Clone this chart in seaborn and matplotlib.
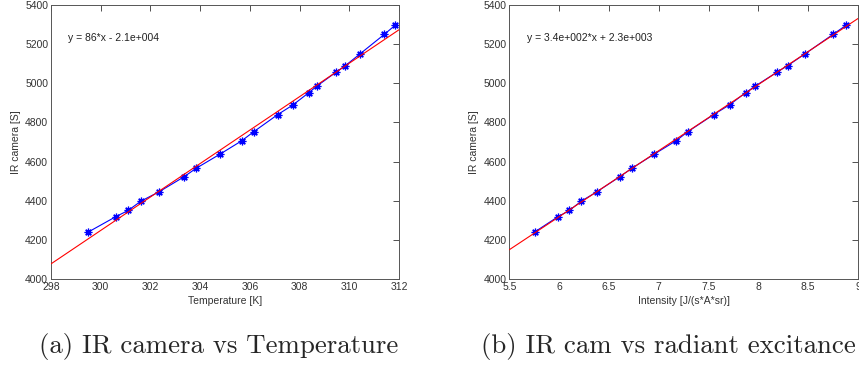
import numpy as np
import pandas as pd
import matplotlib
matplotlib.use("Agg")
import matplotlib.pyplot as plt
from matplotlib.ticker import FuncFormatter, MultipleLocator
import seaborn as sns

# Measured IR camera signal against blackbody temperature and radiant intensity
temperature_K = [299.50, 300.60, 301.10, 301.62, 302.34, 303.35, 303.83, 304.80,
                 305.67, 306.15, 307.12, 307.74, 308.37, 308.69, 309.48, 309.84,
                 310.43, 311.41, 311.84]
intensity = [5.754, 5.988, 6.102, 6.223, 6.377, 6.607, 6.728, 6.955, 7.173,
             7.290, 7.551, 7.711, 7.872, 7.966, 8.190, 8.293, 8.467, 8.749, 8.879]
ir_signal = [4240, 4318, 4350, 4398, 4445, 4522, 4565, 4638, 4706, 4752,
             4840, 4890, 4952, 4985, 5058, 5090, 5150, 5250, 5296]

fit_labels = ["y = 86*x - 2.1e+004", "y = 3.4e+002*x + 2.3e+003"]
x_labels = ["Temperature [K]", "Intensity [J/(s*A*sr)]"]
captions = ["(a) IR camera vs Temperature", "(b) IR cam vs radiant excitance"]
x_limits = [(298, 312), (5.5, 9)]
x_steps = [2, 0.5]

sns.set_style("white")
plt.rcParams["font.family"] = ["Liberation Sans", "DejaVu Sans"]

fig = plt.figure(figsize=(8.59, 3.67), dpi=100)
axes = [fig.add_axes([0.0594, 0.2398, 0.4051, 0.7466]),
        fig.add_axes([0.5929, 0.2398, 0.4060, 0.7466])]

for ax, xs, xl, lim, step, label in zip(axes, [temperature_K, intensity],
                                        x_labels, x_limits, x_steps, fit_labels):
    df = pd.DataFrame({"x": xs, "y": ir_signal})
    slope, intercept = np.polyfit(df["x"], df["y"], 1)
    fit = pd.DataFrame({"x": list(lim)})
    fit["y"] = slope * fit["x"] + intercept

    sns.lineplot(data=df, x="x", y="y", ax=ax, color="#0000ff", lw=0.8,
                 marker=(8, 2, 0), markersize=5.5, markeredgecolor="#0000ff",
                 markeredgewidth=0.9, zorder=2)
    sns.lineplot(data=fit, x="x", y="y", ax=ax, color="#ff0000", lw=0.8, zorder=3)

    ax.set_xlim(*lim)
    ax.set_ylim(4000, 5400)
    ax.xaxis.set_major_locator(MultipleLocator(step))
    ax.yaxis.set_major_locator(MultipleLocator(200))
    ax.xaxis.set_major_formatter(FuncFormatter(lambda v, p: f"{v:g}"))
    ax.tick_params(direction="in", length=4, width=0.6, top=True, right=True,
                   labelsize=7.5, colors="#333333", pad=2)
    for s in ax.spines.values():
        s.set_visible(True)
        s.set_color("#555555")
        s.set_linewidth(0.7)
    ax.set_xlabel(xl, fontsize=7.5, color="#333333", labelpad=3)
    ax.set_ylabel("IR camera [S]", fontsize=7.5, color="#333333", labelpad=3)
    ax.text(0.05, 0.88, label, transform=ax.transAxes, fontsize=7.5,
            color="#222222", va="center")

fig.text(0.0454, 0.038, captions[0], fontsize=19.3, family=["cmr10", "DejaVu Serif"],
         va="baseline", ha="left")
fig.text(0.560, 0.038, captions[1], fontsize=19.3, family=["cmr10", "DejaVu Serif"],
         va="baseline", ha="left")

fig.savefig("out.png", dpi=100)
